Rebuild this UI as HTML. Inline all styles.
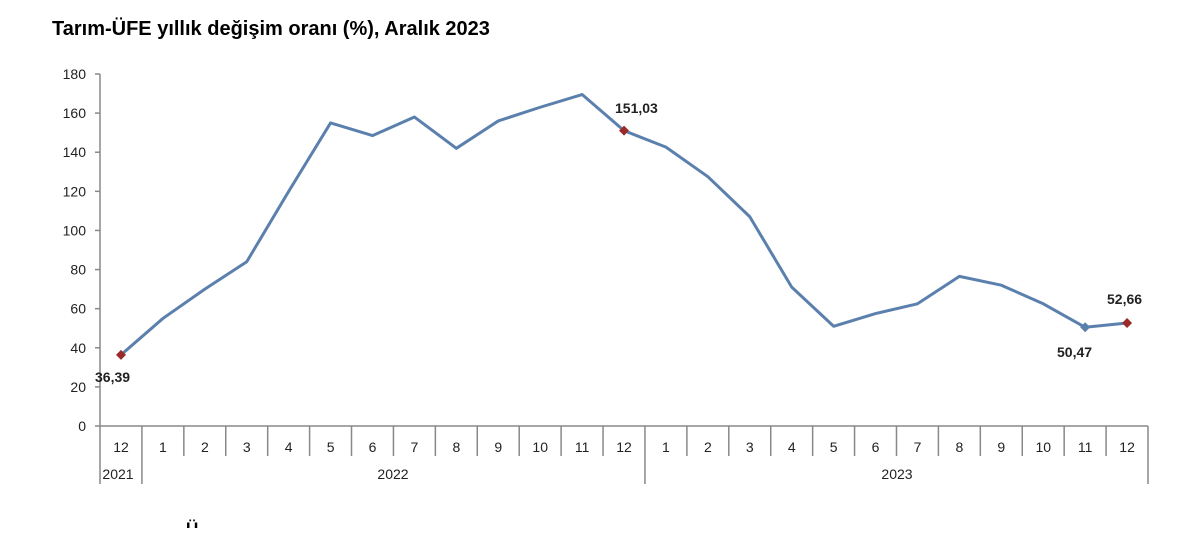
<!DOCTYPE html>
<html><head><meta charset="utf-8"><style>
body{margin:0;background:#fff;width:1200px;height:528px;overflow:hidden}
svg text{font-family:"Liberation Sans",Arial,sans-serif}
</style></head><body>
<svg width="1200" height="528" viewBox="0 0 1200 528">
<text x="52" y="35" font-size="20" font-weight="bold" fill="#000">Tarım-ÜFE yıllık değişim oranı (%), Aralık 2023</text>
<g stroke="#888" stroke-width="1.5" fill="none">
<line x1="100" y1="74" x2="100" y2="426"/>
<line x1="100" y1="426" x2="1148" y2="426"/>
</g>
<g id="yt" font-size="14" fill="#222" text-anchor="end"></g>
<g id="xt" font-size="14" fill="#222" text-anchor="middle"></g>
<polyline id="ln" fill="none" stroke="#5b80ad" stroke-width="3" stroke-linejoin="round"/>
<g id="mk"></g>
<g font-size="14" font-weight="bold" fill="#222">
<text x="95" y="382">36,39</text>
<text x="615" y="113">151,03</text>
<text x="1057" y="357">50,47</text>
<text x="1107" y="304">52,66</text>
</g>
<text x="186" y="534" font-size="17" font-weight="bold">Ü</text>
</svg>
<script>
const v=[36.39,55,70,84,120,155,148.5,158,142,156,163,169.5,151.03,142.6,127.5,107,71,51,57.5,62.5,76.5,72,62.5,50.47,52.66];
const m=[12,1,2,3,4,5,6,7,8,9,10,11,12,1,2,3,4,5,6,7,8,9,10,11,12];
const ns="http://www.w3.org/2000/svg";
const Y=d=>426-d*352/180, W=41.92;
const yt=document.getElementById('yt'),xt=document.getElementById('xt'),svg=document.querySelector('svg');
function el(t,a,p){const e=document.createElementNS(ns,t);for(const k in a)e.setAttribute(k,a[k]);(p||svg).appendChild(e);return e}
for(let d=0;d<=180;d+=20){const y=Y(d);el('line',{x1:95,y1:y,x2:100,y2:y,stroke:'#888','stroke-width':1.5});el('text',{x:86,y:y+5},yt).textContent=d;}
for(let i=0;i<=25;i++){const x=100+i*W;const long=(i==0||i==1||i==13||i==25);el('line',{x1:x,y1:426,x2:x,y2:long?484:456,stroke:'#888','stroke-width':1.5});}
m.forEach((mm,i)=>{el('text',{x:121+i*W,y:452},xt).textContent=mm;});
el('text',{x:118,y:479},xt).textContent='2021';
el('text',{x:393,y:479},xt).textContent='2022';
el('text',{x:897,y:479},xt).textContent='2023';
document.getElementById('ln').setAttribute('points',v.map((d,i)=>(121+i*W)+','+Y(d)).join(' '));
[[0,'#9b2b2b'],[12,'#9b2b2b'],[23,'#5b80ad'],[24,'#9b2b2b']].forEach(([i,c])=>{const x=121+i*W,y=Y(v[i]);el('polygon',{points:`${x},${y-5} ${x+5},${y} ${x},${y+5} ${x-5},${y}`,fill:c});});
</script>
</body></html>
